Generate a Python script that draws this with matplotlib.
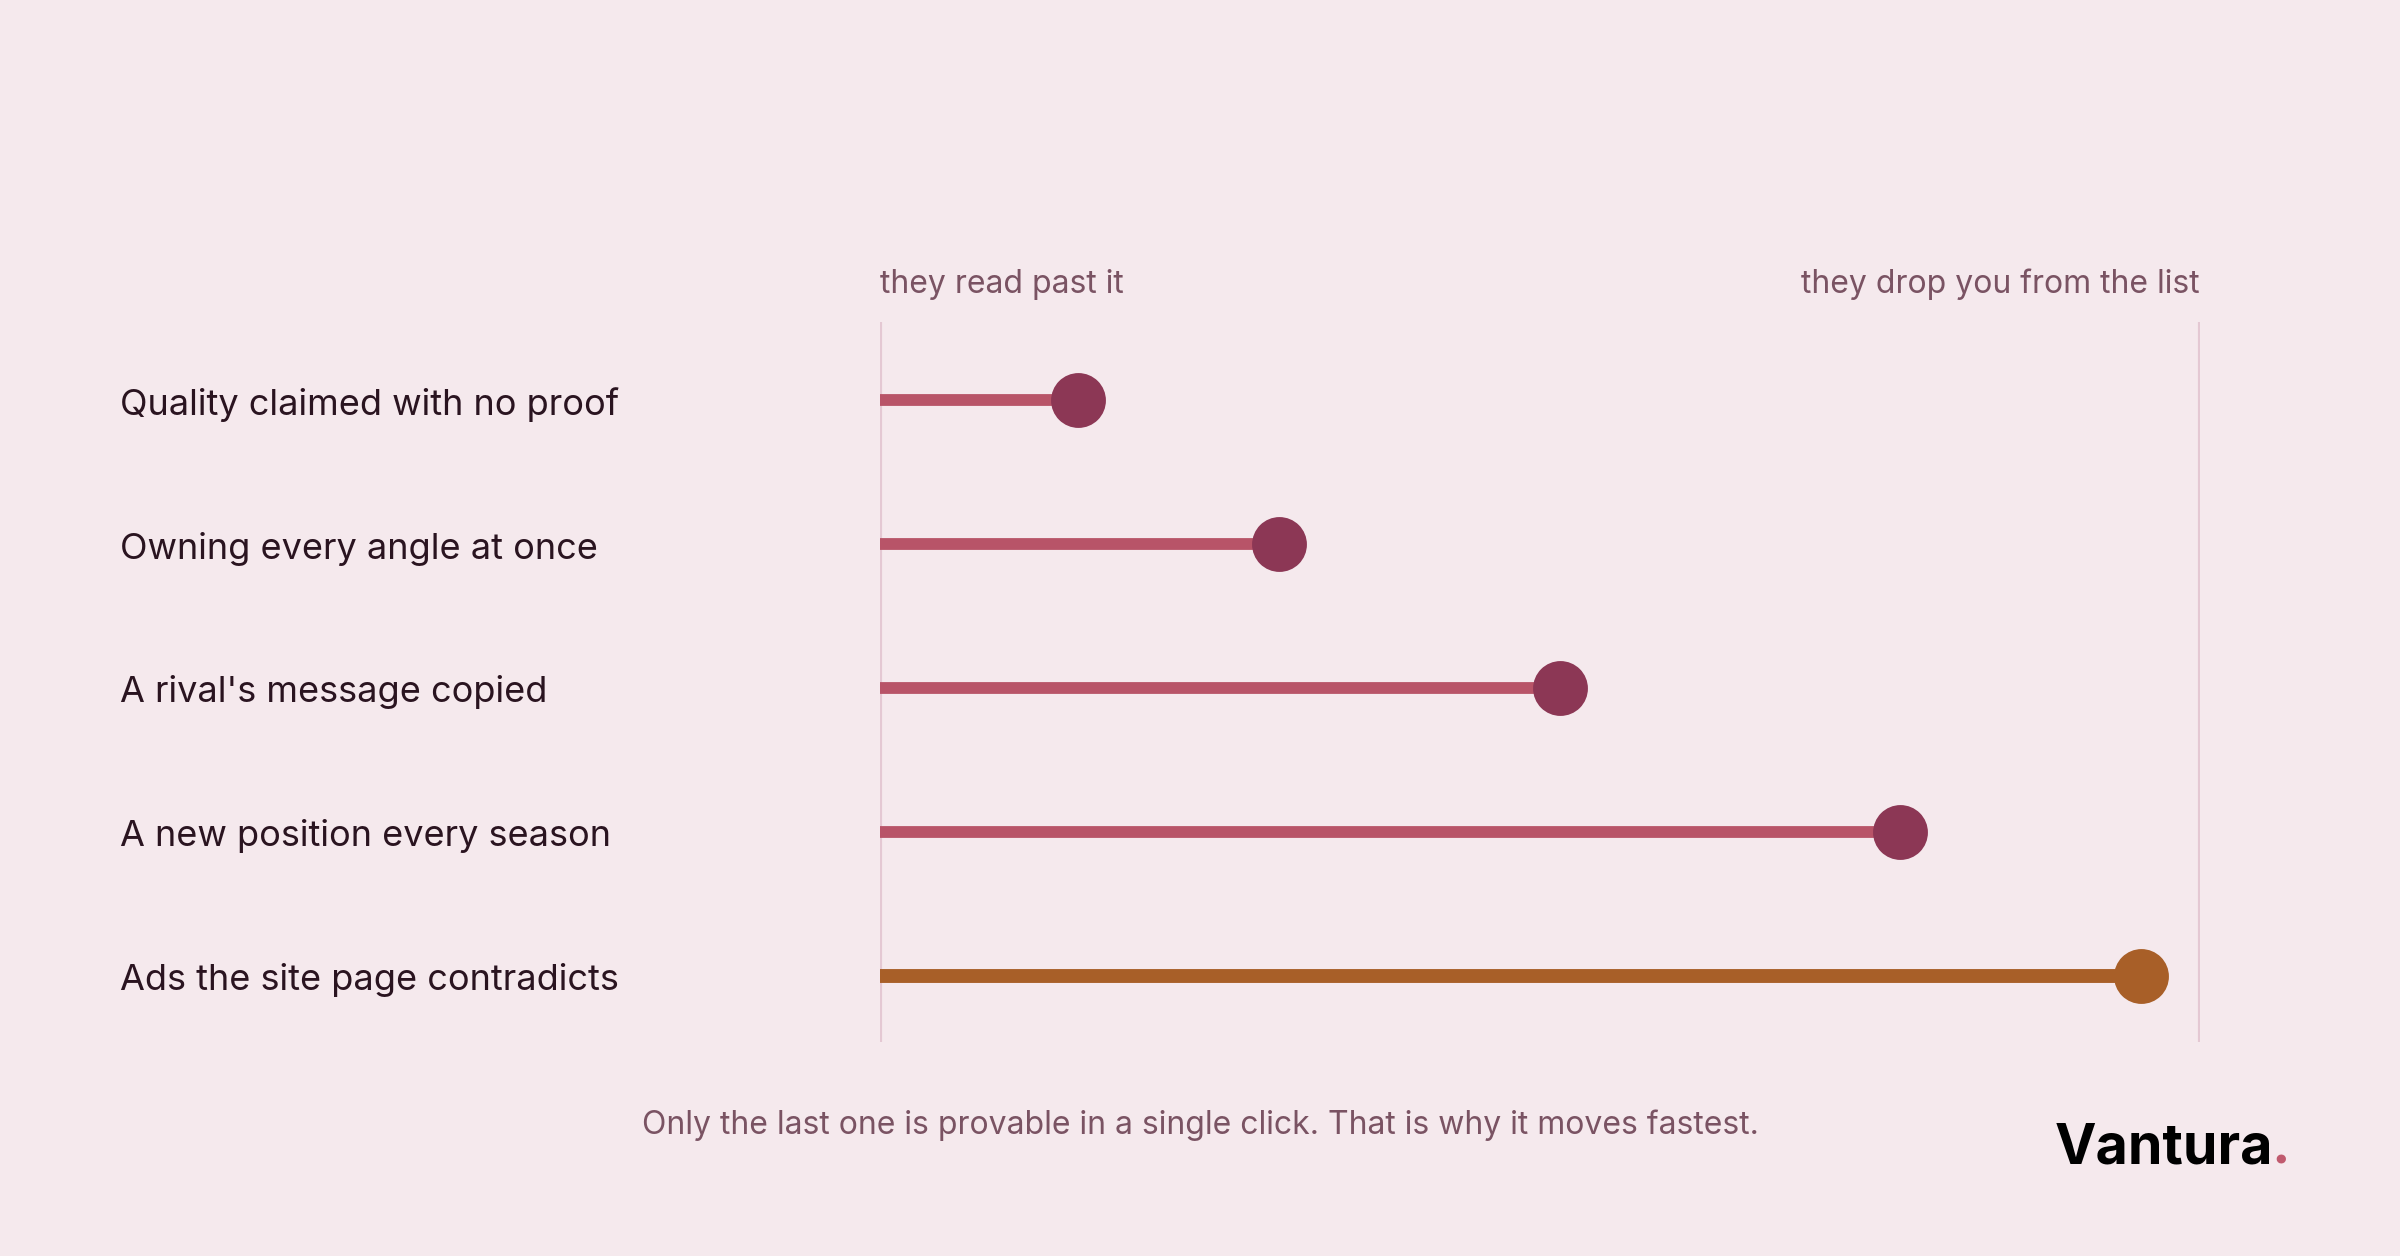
import matplotlib
matplotlib.use("Agg")
import matplotlib.pyplot as plt
from matplotlib.transforms import blended_transform_factory

plt.rcParams['font.family'] = ['Inter', 'DejaVu Sans']

# data
labels = [
    "Quality claimed with no proof",
    "Owning every angle at once",
    "A rival's message copied",
    "A new position every season",
    "Ads the site page contradicts",
]
values = [15.0, 30.2, 51.5, 77.3, 95.5]
highlight = [False, False, False, False, True]
scale_low = "they read past it"
scale_high = "they drop you from the list"
footer = "Only the last one is provable in a single click. That is why it moves fastest."

bg = "#f5e9ed"
stem_col = "#b85468"
dot_col = "#8c3755"
hi_col = "#a85f28"
axis_col = "#e4c8d3"
muted = "#7a5363"
ink = "#2a1420"

fig = plt.figure(figsize=(24, 12.56), dpi=100, facecolor=bg)
ax = fig.add_axes([880 / 2400, (1256 - 1042) / 1256, 1320 / 2400, 720 / 1256])
ax.set_facecolor(bg)
ax.set_xlim(0, 100)
ax.set_ylim(4.46, -0.545)
for s in ax.spines.values():
    s.set_visible(False)
ax.set_xticks([])
ax.set_yticks([])

ax.axvline(0, color=axis_col, lw=3, zorder=1)
ax.axvline(100, color=axis_col, lw=3, zorder=1)

rows = list(range(len(labels)))
for i, (v, h) in enumerate(zip(values, highlight)):
    ax.hlines(i, 0, v, color=hi_col if h else stem_col,
              lw=10 if h else 8.5, zorder=2)
    ax.scatter(v, i, s=1560, color=hi_col if h else dot_col,
               zorder=3, linewidths=0, clip_on=False)

tr = blended_transform_factory(fig.transFigure, ax.transData)
for i, lab in zip(rows, labels):
    ax.text(120 / 2400, i + 0.10, lab, transform=tr, fontsize=26,
            color=ink, ha="left", va="baseline")

ax.text(0, 1.040, scale_low, transform=ax.transAxes, fontsize=23,
        color=muted, ha="left", va="baseline")
ax.text(1, 1.040, scale_high, transform=ax.transAxes, fontsize=23,
        color=muted, ha="right", va="baseline")

fig.text(0.5, 1 - 1134 / 1256, footer, fontsize=23, color=muted,
         ha="center", va="baseline")

logo_y = 1 - 1163 / 1256
logo = fig.text(2055 / 2400, logo_y, "Vantura", fontsize=40,
                fontweight="bold", color="black", ha="left", va="baseline")
fig.canvas.draw()
bb = logo.get_window_extent()
fig.text(bb.x1 / 2400 - 0.001, logo_y, ".", fontsize=40, fontweight="bold",
         color="#c05a6e", ha="left", va="baseline")

fig.savefig("out.png", dpi=100, facecolor=bg)
